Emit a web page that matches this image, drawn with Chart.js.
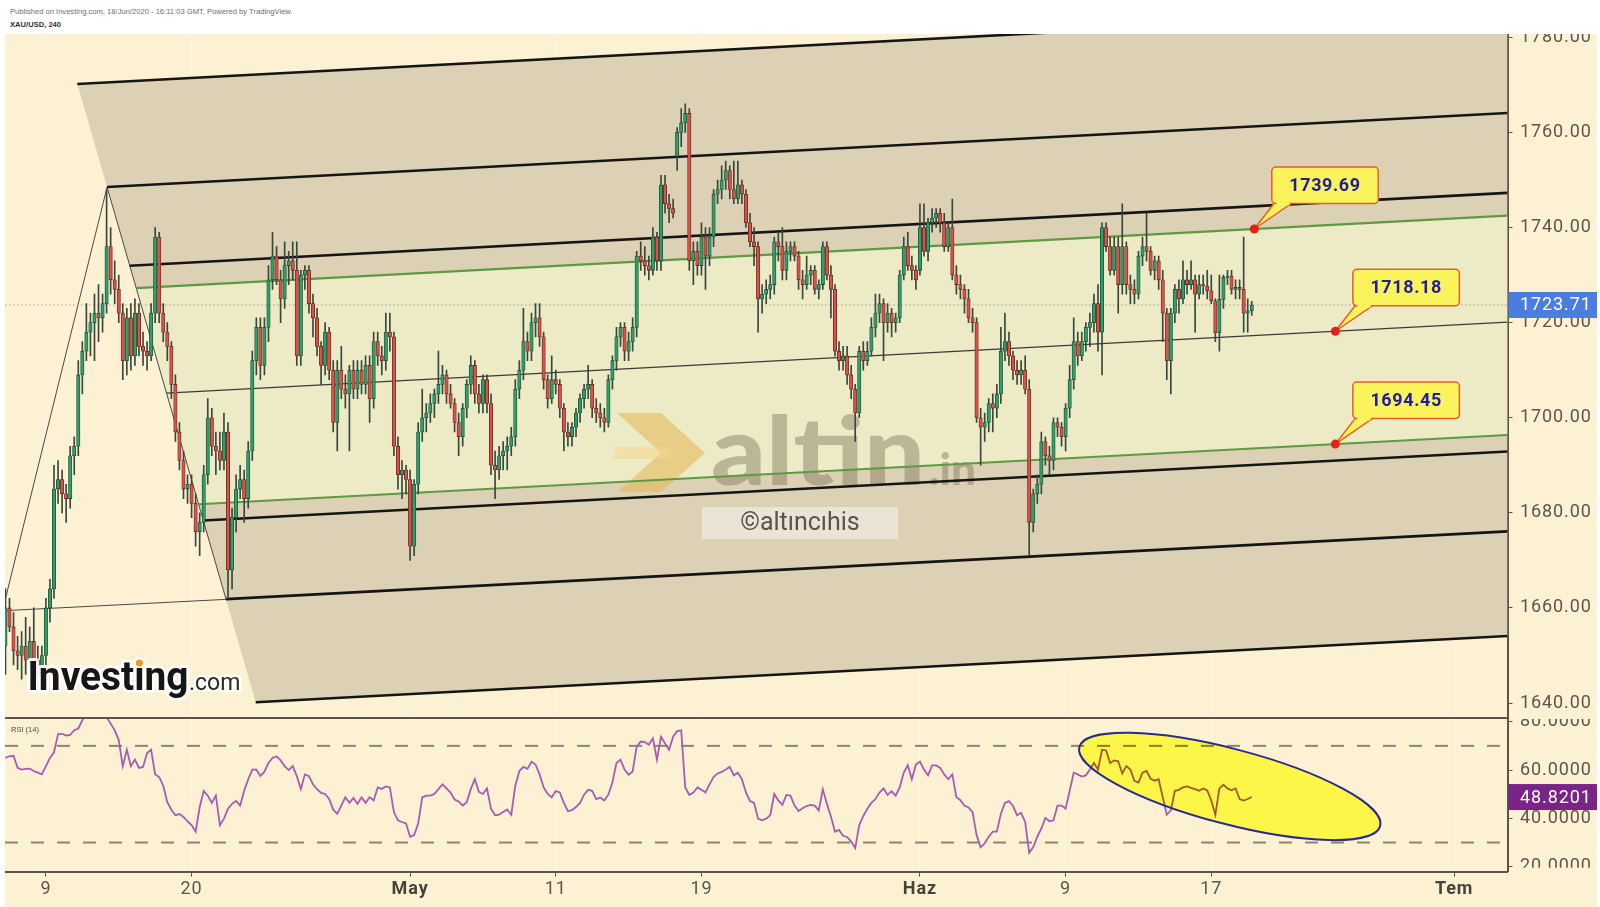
<!DOCTYPE html>
<html>
<head>
<meta charset="utf-8">
<title>XAU/USD, 240</title>
<script src="https://cdn.jsdelivr.net/npm/chart.js@4.4.1/dist/chart.umd.min.js"></script>
<style>
  html, body { margin: 0; padding: 0; }
  body { width: 1600px; height: 907px; background: #fff; position: relative; overflow: hidden; }
  canvas { display: block; }
  .hdr { position: absolute; left: 10px; font-family: "Liberation Sans", Arial, sans-serif; font-size: 7.6px; color: #6e6e6e; white-space: nowrap; }
  .pane { position: absolute; left: 5px; width: 1592px; background: #fdf1d3; }
  #pricePane { top: 34px; height: 685px; }
  #rsiPane { top: 719px; height: 188px; }
  #rsiLabel { position: absolute; left: 6px; top: 6px; font: 7.5px "Liberation Sans", Arial, sans-serif; color: #4a4a4a; }
</style>
</head>
<body>
<div class="hdr" style="top:6.5px">Published on Investing.com, 18/Jun/2020 - 16:11:03 GMT, Powered by TradingView.</div>
<div class="hdr" style="top:19.5px;font-weight:bold;color:#333">XAU/USD, 240</div>
<div class="pane" id="pricePane"><canvas id="priceChart" width="1592" height="685"></canvas></div>
<div class="pane" id="rsiPane"><canvas id="rsiChart" width="1592" height="188"></canvas><div id="rsiLabel">RSI (14)</div></div>
<script>
// x axis is in trading days: 0 = Thu 9 Apr 2020 (weekends / Good Friday removed)
const xMin = -1.685, xMax = 60.2;
const xTickDays = [0, 6, 15, 21, 27, 36, 42, 48, 58];
const xTickLabels = ['9', '20', 'May', '11', '19', 'Haz', '9', '17', 'Tem'];
const monthLabels = ['May', 'Haz', 'Tem'];
const firstBarDay = -5 / 3;   // first visible 4h bar, Tue 7 Apr
const barsPerDay = 6;

// XAU/USD 4h bars, one row per trading day
const open = [
  1652,1660,1656,1651,
  1650,1652,1649,1653,1649,1646,
  1650,1660,1664,1685,1687,1684,
  1683,1692,1694,1709,1714,1718,
  1720,1722,1721,1724,1736,1729,
  1727,1722,1712,1721,1713,1722,
  1715,1714,1713,1722,1738,1722,
  1718,1715,1707,1697,1691,1685,
  1686,1682,1676,1678,1688,1700,
  1694,1693,1691,1697,1668,1679,
  1685,1687,1683,1693,1712,1719,
  1711,1719,1729,1734,1729,1725,
  1732,1733,1731,1713,1730,1731,
  1724,1721,1715,1711,1718,1710,
  1699,1710,1706,1705,1710,1706,
  1710,1707,1711,1704,1716,1713,
  1712,1718,1717,1694,1688,1689,
  1687,1673,1686,1697,1700,1701,
  1703,1705,1707,1709,1705,1703,
  1699,1696,1702,1707,1711,1705,
  1703,1708,1703,1690,1689,1692,
  1693,1694,1696,1706,1710,1716,
  1714,1720,1721,1717,1708,1704,
  1708,1707,1702,1697,1696,1698,
  1701,1704,1706,1707,1702,1701,
  1700,1699,1708,1712,1717,1719,
  1714,1716,1719,1734,1733,1732,
  1731,1738,1733,1749,1745,1744,
  1755,1760,1762,1764,1733,1735,
  1732,1738,1734,1738,1747,1748,
  1750,1752,1748,1746,1749,1747,
  1741,1737,1736,1725,1726,1727,
  1728,1737,1736,1731,1735,1736,
  1734,1729,1728,1730,1731,1727,
  1728,1736,1730,1727,1714,1712,
  1713,1709,1706,1701,1714,1712,
  1714,1719,1722,1724,1720,1722,
  1720,1721,1730,1736,1732,1731,
  1731,1740,1735,1741,1742,1743,
  1741,1736,1740,1730,1728,1727,
  1725,1721,1720,1700,1698,1699,
  1703,1702,1705,1714,1716,1713,
  1710,1709,1710,1706,1678,1684,
  1686,1695,1692,1691,1699,1698,
  1696,1702,1708,1716,1713,1716,
  1719,1720,1724,1718,1740,1736,
  1731,1736,1728,1736,1728,1727,
  1726,1734,1736,1735,1731,1733,
  1729,1722,1712,1722,1727,1725,
  1729,1728,1729,1726,1728,1727.7,
  1726.7,1724.6,1717.9,1724.9,1729.5,1729.8,
  1727,1727.4,1727,1722,1722.5
];
const high = [
  1664,1662,1659,1654,
  1655,1658,1656,1660,1652,1652,
  1662,1666,1690,1691,1689,1686,
  1694,1696,1712,1716,1724,1722,
  1726,1728,1726,1748,1740,1733,
  1730,1724,1723,1724,1725,1724,
  1718,1716,1724,1740,1739,1724,
  1720,1716,1709,1699,1693,1688,
  1688,1684,1680,1690,1704,1702,
  1697,1697,1701,1699,1681,1688,
  1690,1689,1695,1714,1721,1721,
  1721,1732,1739,1736,1731,1737,
  1735,1737,1737,1731,1732,1732,
  1726,1723,1716,1720,1719,1712,
  1712,1715,1709,1711,1712,1712,
  1712,1713,1713,1718,1718,1715,
  1722,1722,1718,1696,1691,1690,
  1689,1687,1699,1706,1703,1705,
  1706,1714,1711,1710,1707,1704,
  1701,1703,1708,1713,1712,1707,
  1709,1709,1705,1693,1694,1695,
  1696,1698,1708,1712,1723,1718,
  1722,1724,1724,1718,1709,1713,
  1710,1708,1703,1699,1699,1702,
  1705,1707,1711,1708,1704,1703,
  1702,1709,1713,1719,1720,1720,
  1718,1721,1735,1737,1736,1734,
  1740,1739,1751,1751,1747,1746,
  1761,1765,1766,1765,1737,1737,
  1741,1740,1740,1748,1750,1753,
  1754,1753,1754,1754,1750,1748,
  1743,1740,1737,1728,1729,1730,
  1738,1739,1740,1737,1737,1737,
  1735,1731,1734,1732,1732,1729,
  1737,1737,1732,1728,1716,1715,
  1715,1711,1707,1715,1716,1716,
  1721,1726,1726,1725,1724,1723,
  1722,1731,1738,1739,1734,1732,
  1745,1745,1742,1744,1744,1744,
  1743,1741,1746,1732,1730,1728,
  1727,1723,1721,1702,1701,1704,
  1705,1707,1719,1722,1718,1714,
  1712,1712,1713,1708,1685,1688,
  1697,1696,1694,1700,1700,1699,
  1703,1711,1721,1718,1718,1720,
  1722,1726,1728,1741,1741,1738,
  1738,1738,1745,1737,1730,1729,
  1735,1738,1743,1736,1734,1734,
  1731,1723,1723,1728,1729,1733,
  1731,1733,1730,1730,1730,1731,
  1730,1725,1730,1730,1731,1731,
  1729,1729,1738,1725,1724.5
];
const low = [
  1646,1655,1648,1647,
  1645,1646,1647,1646,1643,1645,
  1648,1657,1662,1682,1680,1678,
  1681,1688,1692,1705,1712,1713,
  1712,1716,1718,1722,1726,1724,
  1720,1708,1709,1710,1711,1713,
  1711,1710,1712,1720,1720,1716,
  1712,1704,1695,1689,1683,1682,
  1679,1673,1671,1676,1686,1692,
  1688,1689,1689,1662,1664,1676,
  1683,1678,1681,1691,1709,1708,
  1709,1716,1727,1728,1720,1723,
  1728,1729,1711,1711,1727,1722,
  1717,1713,1707,1709,1708,1697,
  1693,1704,1702,1693,1704,1704,
  1705,1705,1699,1702,1711,1709,
  1710,1714,1692,1685,1683,1684,
  1670,1671,1684,1695,1697,1699,
  1700,1703,1705,1703,1702,1697,
  1692,1694,1700,1705,1703,1701,
  1701,1701,1688,1683,1687,1689,
  1689,1692,1694,1704,1708,1712,
  1712,1717,1715,1706,1702,1703,
  1705,1700,1693,1694,1694,1696,
  1699,1702,1704,1700,1699,1698,
  1697,1698,1706,1710,1715,1712,
  1712,1714,1717,1731,1730,1729,
  1730,1731,1731,1743,1741,1742,
  1752,1757,1760,1731,1728,1730,
  1730,1727,1732,1736,1745,1746,
  1748,1746,1745,1745,1745,1740,
  1736,1732,1718,1722,1724,1725,
  1726,1733,1729,1729,1733,1733,
  1727,1725,1727,1728,1726,1725,
  1727,1729,1721,1713,1710,1710,
  1707,1704,1695,1700,1710,1711,
  1713,1717,1720,1712,1718,1717,
  1718,1720,1729,1731,1729,1727,
  1730,1734,1733,1739,1740,1739,
  1735,1735,1729,1726,1725,1722,
  1720,1718,1699,1690,1695,1697,
  1697,1700,1703,1712,1711,1708,
  1707,1707,1705,1671,1676,1682,
  1684,1690,1688,1689,1696,1694,
  1693,1700,1706,1711,1712,1714,
  1715,1718,1714,1709,1735,1730,
  1730,1722,1726,1726,1724,1724,
  1725,1732,1733,1730,1729,1727,
  1716,1708,1705,1720,1722,1724,
  1726,1727,1718,1725,1726,1725,
  1724,1716,1714,1723,1728,1726,
  1725,1725,1718,1718,1721.5
];
const close = [
  1660,1656,1651,1650,
  1652,1649,1653,1649,1646,1650,
  1660,1664,1685,1687,1684,1683,
  1692,1694,1709,1714,1718,1720,
  1722,1721,1724,1736,1729,1727,
  1722,1712,1721,1713,1722,1715,
  1714,1713,1722,1738,1722,1718,
  1715,1707,1697,1691,1685,1686,
  1682,1676,1678,1688,1700,1694,
  1693,1691,1697,1668,1679,1685,
  1687,1683,1693,1712,1719,1711,
  1719,1729,1734,1729,1725,1732,
  1733,1731,1713,1730,1731,1724,
  1721,1715,1711,1718,1710,1699,
  1710,1706,1705,1710,1706,1710,
  1707,1711,1704,1716,1713,1712,
  1718,1717,1694,1688,1689,1687,
  1673,1686,1697,1700,1701,1703,
  1705,1707,1709,1705,1703,1699,
  1696,1702,1707,1711,1705,1703,
  1708,1703,1690,1689,1692,1693,
  1694,1696,1706,1710,1716,1714,
  1720,1721,1717,1708,1704,1708,
  1707,1702,1697,1696,1698,1701,
  1704,1706,1707,1702,1701,1700,
  1699,1708,1712,1717,1719,1714,
  1716,1719,1734,1733,1732,1731,
  1738,1733,1749,1745,1744,1743,
  1760,1762,1764,1733,1735,1732,
  1738,1734,1738,1747,1748,1750,
  1752,1748,1746,1749,1747,1741,
  1737,1736,1725,1726,1727,1728,
  1737,1736,1731,1735,1736,1734,
  1729,1728,1730,1731,1727,1728,
  1736,1730,1727,1714,1712,1713,
  1709,1706,1701,1714,1712,1714,
  1719,1722,1724,1720,1722,1720,
  1721,1730,1736,1732,1731,1729,
  1740,1735,1741,1742,1743,1741,
  1736,1740,1730,1728,1727,1725,
  1721,1720,1700,1698,1699,1703,
  1702,1705,1714,1716,1713,1710,
  1709,1710,1706,1678,1684,1686,
  1695,1692,1691,1699,1698,1696,
  1702,1708,1716,1713,1716,1719,
  1720,1724,1718,1740,1736,1731,
  1736,1728,1736,1728,1727,1726,
  1734,1736,1735,1731,1733,1729,
  1722,1712,1722,1727,1725,1729,
  1728,1729,1726,1728,1727.7,1726.7,
  1724.6,1717.9,1724.9,1729.5,1729.8,1727,
  1727.4,1727,1722,1722.5,1723.71
];

// RSI (14), one value per bar
const rsi = [
  65.0,65.7,65.9,60.9,60.2,60.5,60.6,59.6,58.9,58.2,
  61.6,65.0,67.3,74.9,75.0,74.3,74.5,76.5,77.2,80.6,
  84,86,85,88,85,82,79.2,76.5,72.4,61.6,
  68.4,61.6,64.3,60.9,61.3,67.0,68.4,58.2,57.1,53.5,
  46.7,43.6,41.3,41.8,40.6,38.8,37.2,34.5,44.6,51.4,
  49.4,46.4,49.4,37.2,39.9,44.0,46.0,47.2,45.3,51.4,
  56.2,60.2,60.2,57.5,59.3,62.9,65.0,65.7,64.0,61.6,
  60.0,61.6,57.5,52.1,58.2,57.5,54.1,52.1,50.5,50.1,
  48.0,43.6,41.9,45.3,48.7,46.4,48.4,46.0,48.7,46.4,
  48.7,47.4,52.8,52.2,53.2,52.8,42.6,39.2,38.5,37.9,
  32.4,33.1,37.9,48.7,49.4,49.4,50.1,52.1,54.1,52.4,
  50.7,47.8,47.0,45.3,46.7,52.1,56.2,51.0,50.1,52.4,
  44.0,41.3,41.5,42.6,43.7,41.5,53.5,59.6,61.3,60.5,
  63.4,62.3,58.2,52.8,50.1,48.7,51.3,50.7,46.4,43.0,
  43.4,44.7,46.4,49.8,51.8,51.4,48.0,48.6,47.4,49.8,
  54.9,62.9,64.3,60.2,58.1,59.4,69.7,71.8,71.6,70.5,
  73.1,64.3,73.8,71.1,68.4,73.8,76.1,76.4,52.8,49.7,
  50.7,52.8,51.8,50.7,54.1,57.1,58.6,59.2,60.2,61.3,
  57.8,58.9,56.2,50.7,47.2,46.4,39.9,39.2,39.9,41.3,
  50.1,47.4,45.6,49.7,49.4,45.3,43.0,44.2,45.1,45.6,
  45.3,43.3,52.1,46.0,40.8,34.5,35.2,32.8,32.3,30.4,
  27.7,37.2,41.0,44.0,46.4,48.0,50.7,52.4,49.7,51.2,
  49.4,52.8,58.9,62.0,56.2,62.3,63.5,60.2,57.8,61.9,
  61.9,60.9,58.2,56.2,58.2,48.7,47.5,45.3,44.5,42.6,
  33.1,28.0,29.7,32.4,34.5,34.5,41.9,46.4,47.1,45.1,
  41.3,42.3,38.5,25.7,28.1,32.4,35.8,40.2,38.8,39.2,
  45.3,45.3,44.0,51.4,58.9,58.2,57.3,57.8,60.2,62.9,
  60.2,68.4,68.1,62.9,64.0,63.6,58.6,61.6,60.2,55.5,
  54.8,58.9,59.6,56.4,55.6,56.2,48.7,41.5,43.3,51.4,
  51.8,52.8,53.2,52.6,52.1,51.4,52.4,51.6,47.4,41.5,
  52.4,53.9,52.4,51.6,52.4,48.0,47.4,48.0,48.82
];
const rsiBands = [70, 30];
const lastPrice = 1723.71;
const lastRsi = 48.8201;

const priceMin = 1636.85, priceMax = 1780.7;
const rsiMin = 17.93, rsiMax = 81.12;

// pitchfork drawn by the author: median line, slope and parallel offsets
const forkAnchorDay = 53.11, forkAnchorPrice = 1718.18, forkSlope = 0.27;
const forkOffsets = [66, 44, 27.2, 22.4, 0, -23.73, -27.2, -44, -66];
const forkKinds = ['black', 'black', 'black', 'green', 'median', 'green', 'black', 'black', 'black'];
const pivotDays = [-1.79, 2.52, 7.42];
const pivotPrices = [1659.4, 1748.5, 1661.8];

// price callouts on the fork
const calloutDays = [49.77, 53.11, 53.11];
const calloutValues = [1739.69, 1718.18, 1694.45];

// highlighted RSI area
const ellipseDay = 48.76, ellipseRsi = 53.2;

const cream = '#fdf1d3';
const axisColor = '#5b554c';
const labelColor = '#5d564d';
const upFill = '#2e9f69', upEdge = '#1f4d36';
const downFill = '#dc5046', downEdge = '#5e2a22';
const wickColor = '#39473d';
const lineStyle = {
  black: { color: '#151515', width: 2.6 },
  green: { color: '#5e9a42', width: 2.2 },
  median: { color: '#3a3a3a', width: 1.2 }
};

Chart.defaults.font.family = 'Roboto';

const barDay = i => firstBarDay + i / barsPerDay;
const forkAt = (off, d) => forkAnchorPrice + forkSlope * (d - forkAnchorDay) + off;
const edgeSlope = (pivotPrices[2] - pivotPrices[1]) / (pivotDays[2] - pivotDays[1]);
// where a parallel meets the pivot2-pivot3 edge
const forkStart = off => (pivotPrices[1] - edgeSlope * pivotDays[1] - forkAnchorPrice + forkSlope * forkAnchorDay - off) / (forkSlope - edgeSlope);
const forkSeg = off => {
  const d0 = forkStart(off);
  return [{ x: d0, y: forkAt(off, d0) }, { x: xMax, y: forkAt(off, xMax) }];
};

const isMonth = v => monthLabels.includes(xTickLabels[xTickDays.indexOf(v)]);

// no extra room for half labels at the ends: TradingView clips them
const noPad = s => { s.paddingTop = 0; s.paddingBottom = 0; s.paddingLeft = 0; s.paddingRight = 0; };

function dayScale(withLabels) {
  return {
    type: 'linear', min: xMin, max: xMax, offset: false,
    afterBuildTicks: s => { s.ticks = xTickDays.map(v => ({ value: v })); },
    grid: { color: 'rgba(255,255,255,0.45)', offset: false, drawTicks: withLabels, tickLength: 5, tickColor: axisColor },
    border: { display: true, color: axisColor, width: 2 },
    ticks: {
      display: withLabels, autoSkip: false, maxRotation: 0, padding: 2,
      callback: v => { const k = xTickDays.indexOf(v); return k >= 0 ? xTickLabels[k] : ''; },
      font: ctx => ({ family: 'Roboto', size: 18, weight: isMonth(ctx.tick && ctx.tick.value) ? 'bold' : 'normal' }),
      color: ctx => isMonth(ctx.tick && ctx.tick.value) ? '#49423a' : labelColor
    },
    afterFit: s => { s.height = withLabels ? 35.3 : 1; noPad(s); }
  };
}

function valueScale(min, max, digits) {
  return {
    type: 'linear', position: 'right', min: min, max: max,
    ticks: {
      stepSize: 20, includeBounds: false, padding: 7.5,
      callback: v => v.toFixed(digits),
      font: { family: 'Roboto', size: 18 }, color: labelColor
    },
    grid: { drawOnChartArea: false, tickLength: 5, tickColor: axisColor },
    border: { color: axisColor, width: 2 },
    afterFit: s => { s.width = 89.5; noPad(s); }
  };
}

const spacing = { id: 'spacing', beforeDraw: c => { c.ctx.letterSpacing = '0.9px'; } };

// ---------- price pane ----------
const outerZone = [...forkSeg(66), ...forkSeg(-66).reverse()];
const innerZone = [...forkSeg(22.4), ...forkSeg(-23.73).reverse()];

const priceDatasets = [
  { type: 'line', data: outerZone, fill: 'shape', backgroundColor: '#dcd1b4', borderColor: 'transparent', borderWidth: 0, pointRadius: 0, order: 30 },
  { type: 'line', data: innerZone, fill: 'shape', backgroundColor: '#ecebc6', borderColor: 'transparent', borderWidth: 0, pointRadius: 0, order: 29 }
];
const WATERMARK_AFTER = 1;

forkOffsets.forEach((off, k) => {
  const st = lineStyle[forkKinds[k]];
  priceDatasets.push({ type: 'line', data: forkSeg(off), borderColor: st.color, borderWidth: st.width, pointRadius: 0, fill: false, order: 20 });
});
[[0, 1], [1, 2], [0, 2]].forEach(([a, b]) => {
  priceDatasets.push({
    type: 'line',
    data: [{ x: pivotDays[a], y: pivotPrices[a] }, { x: pivotDays[b], y: pivotPrices[b] }],
    borderColor: '#484848', borderWidth: 1, pointRadius: 0, fill: false, order: 20
  });
});
priceDatasets.push({
  type: 'line', data: [{ x: xMin, y: lastPrice }, { x: xMax, y: lastPrice }],
  borderColor: '#a39d92', borderWidth: 1, borderDash: [1.5, 2.5], pointRadius: 0, fill: false, order: 15
});
priceDatasets.push({
  type: 'bar', data: close.map((c, i) => ({ x: barDay(i), y: [low[i], high[i]] })),
  backgroundColor: wickColor, barThickness: 1, grouped: false, order: 2
});
priceDatasets.push({
  type: 'bar', data: close.map((c, i) => ({ x: barDay(i), y: [open[i], c] })),
  backgroundColor: ctx => close[ctx.dataIndex] >= open[ctx.dataIndex] ? upFill : downFill,
  borderColor: ctx => close[ctx.dataIndex] >= open[ctx.dataIndex] ? upEdge : downEdge,
  borderWidth: 0.8, borderSkipped: false, barThickness: 3.4, minBarLength: 1, grouped: false, order: 1
});

function drawWatermark(chart) {
  const ctx = chart.ctx;
  ctx.save();
  ctx.letterSpacing = '0px';
  // gold chevron of the altin.in mark
  const ix = 606, iy = 379;
  ctx.fillStyle = 'rgba(228,180,82,0.55)';
  ctx.beginPath();
  ctx.moveTo(ix + 6, iy); ctx.lineTo(ix + 50, iy); ctx.lineTo(ix + 94, iy + 40);
  ctx.lineTo(ix + 50, iy + 79); ctx.lineTo(ix + 6, iy + 79); ctx.lineTo(ix + 50, iy + 40);
  ctx.closePath(); ctx.fill();
  ctx.fillStyle = 'rgba(245,215,140,0.55)';
  ctx.beginPath();
  ctx.moveTo(ix, iy + 34); ctx.lineTo(ix + 56, iy + 34); ctx.lineTo(ix + 62, iy + 40);
  ctx.lineTo(ix + 56, iy + 46); ctx.lineTo(ix, iy + 46); ctx.lineTo(ix + 6, iy + 40);
  ctx.closePath(); ctx.fill();
  // altin.in word mark
  ctx.fillStyle = 'rgba(120,110,85,0.42)';
  ctx.textBaseline = 'alphabetic';
  ctx.textAlign = 'left';
  ctx.font = '900 96px Lato';
  const w = ctx.measureText('altin').width;
  ctx.save();
  ctx.translate(706, 451);
  ctx.scale(214 / w, 1);
  ctx.fillText('altin', 0, 0);
  ctx.restore();
  ctx.font = '900 44px Lato';
  ctx.fillText('.in', 924, 451);
  // copyright strip
  ctx.fillStyle = 'rgba(238,236,228,0.7)';
  ctx.fillRect(697, 473, 196, 32);
  ctx.fillStyle = '#58534b';
  ctx.font = '25px Roboto';
  ctx.textAlign = 'center';
  ctx.textBaseline = 'middle';
  ctx.fillText('©altıncıhis', 795, 490);
  ctx.restore();
}

function drawLogo(chart) {
  const ctx = chart.ctx;
  ctx.save();
  ctx.letterSpacing = '0px';
  ctx.textBaseline = 'alphabetic';
  ctx.textAlign = 'left';
  ctx.font = 'bold 41px Roboto';
  const w = ctx.measureText('Investing').width;
  const sx = 161 / w;
  ctx.save();
  ctx.translate(22.5, 656);
  ctx.scale(sx, 1);
  ctx.lineJoin = 'round';
  ctx.strokeStyle = 'rgba(255,255,255,0.9)';
  ctx.lineWidth = 6;
  ctx.strokeText('Investing', 0, 0);
  ctx.fillStyle = '#161616';
  ctx.fillText('Investing', 0, 0);
  const iw = ctx.measureText('Invest').width;
  ctx.fillStyle = '#f29a1f';
  ctx.beginPath();
  ctx.arc(iw + 5.5, -27, 3.6, 0, Math.PI * 2);
  ctx.fill();
  ctx.restore();
  ctx.font = '23px Roboto';
  ctx.strokeStyle = 'rgba(255,255,255,0.9)';
  ctx.lineWidth = 5;
  ctx.strokeText('.com', 184, 656);
  ctx.fillStyle = '#2a2a2a';
  ctx.fillText('.com', 184, 656);
  ctx.restore();
}

function drawCallouts(chart) {
  const { ctx, scales } = chart;
  ctx.save();
  ctx.letterSpacing = '0.6px';
  calloutDays.forEach((d, k) => {
    const px = scales.x.getPixelForValue(d);
    const py = scales.y.getPixelForValue(calloutValues[k]);
    const bx = px + 17.5, by = py - 62, bw = 106.5, bh = 36.5;
    const tail = () => {
      ctx.beginPath();
      ctx.moveTo(bx + 3, by + bh - 1);
      ctx.lineTo(px, py);
      ctx.lineTo(bx + 21, by + bh - 1);
      ctx.closePath();
    };
    ctx.fillStyle = '#fbf35c';
    ctx.strokeStyle = '#e2602c';
    ctx.lineWidth = 1.5;
    tail(); ctx.fill(); ctx.stroke();
    ctx.beginPath();
    ctx.roundRect(bx, by, bw, bh, 4);
    ctx.fill(); ctx.stroke();
    ctx.beginPath();
    ctx.moveTo(bx + 4.5, by + bh - 2.5);
    ctx.lineTo(bx + 19.5, by + bh - 2.5);
    ctx.lineTo(bx + 17, by + bh + 2);
    ctx.lineTo(bx + 5, by + bh + 2);
    ctx.closePath();
    ctx.fill();
    ctx.fillStyle = '#1e1e9e';
    ctx.font = 'bold 18px Roboto';
    ctx.textAlign = 'center';
    ctx.textBaseline = 'middle';
    ctx.fillText(calloutValues[k].toFixed(2), bx + bw / 2, by + bh / 2 + 1);
    ctx.beginPath();
    ctx.arc(px, py, 4.5, 0, Math.PI * 2);
    ctx.fillStyle = '#e3211c';
    ctx.fill();
  });
  ctx.restore();
}

function drawTag(chart, scale, value, text, color) {
  const { ctx, chartArea } = chart;
  const yp = scale.getPixelForValue(value);
  ctx.save();
  ctx.fillStyle = color;
  ctx.fillRect(chartArea.right + 1, yp - 13, chart.width - chartArea.right - 1, 26);
  ctx.fillStyle = '#ffffff';
  ctx.letterSpacing = '0.9px';
  ctx.font = '18px Roboto';
  ctx.textAlign = 'left';
  ctx.textBaseline = 'middle';
  ctx.fillText(text, chartArea.right + 12.5, yp + 1);
  ctx.restore();
}

const pricePlugin = {
  id: 'priceDecor',
  afterDatasetDraw: (chart, args) => { if (args.index === WATERMARK_AFTER) drawWatermark(chart); },
  afterDatasetsDraw: chart => { drawLogo(chart); drawCallouts(chart); },
  afterDraw: chart => drawTag(chart, chart.scales.y, lastPrice, lastPrice.toFixed(2), '#4b7de1')
};

new Chart(document.getElementById('priceChart'), {
  type: 'line',
  data: { datasets: priceDatasets },
  options: {
    responsive: false, animation: false, events: [],
    layout: { padding: 0, autoPadding: false },
    plugins: { legend: { display: false }, tooltip: { enabled: false } },
    scales: { x: dayScale(false), y: valueScale(priceMin, priceMax, 2) }
  },
  plugins: [spacing, pricePlugin]
});

// ---------- RSI pane ----------
const rsiDatasets = [
  { data: rsi.map((v, i) => ({ x: barDay(i), y: v })), borderColor: '#a65cb6', borderWidth: 1.8, pointRadius: 0, fill: false, tension: 0, order: 1 },
  ...rsiBands.map(b => ({
    data: [{ x: xMin, y: b }, { x: xMax, y: b }],
    borderColor: '#8d8576', borderWidth: 2, borderDash: [13, 13], pointRadius: 0, fill: false, order: 2
  }))
];

const rsiPlugin = {
  id: 'rsiDecor',
  afterDatasetsDraw: chart => {
    const { ctx, scales } = chart;
    const cx = scales.x.getPixelForValue(ellipseDay);
    const cy = scales.y.getPixelForValue(ellipseRsi);
    ctx.save();
    ctx.beginPath();
    ctx.ellipse(cx, cy, 155.5, 37.6, 14.7 * Math.PI / 180, 0, Math.PI * 2);
    ctx.globalCompositeOperation = 'multiply';
    ctx.fillStyle = 'rgb(252,246,72)';
    ctx.fill();
    ctx.globalCompositeOperation = 'source-over';
    ctx.strokeStyle = '#2b2a8f';
    ctx.lineWidth = 2;
    ctx.stroke();
    ctx.restore();
  },
  afterDraw: chart => {
    const { ctx, chartArea } = chart;
    // the pane clips the lowest axis label at its bottom edge
    ctx.save();
    ctx.fillStyle = cream;
    ctx.fillRect(chartArea.right + 1.5, chartArea.bottom - 4, chart.width, chart.height);
    ctx.restore();
    drawTag(chart, chart.scales.y, lastRsi, lastRsi.toFixed(4), '#7a2388');
  }
};

new Chart(document.getElementById('rsiChart'), {
  type: 'line',
  data: { datasets: rsiDatasets },
  options: {
    responsive: false, animation: false, events: [],
    layout: { padding: 0, autoPadding: false },
    plugins: { legend: { display: false }, tooltip: { enabled: false } },
    scales: { x: dayScale(true), y: valueScale(rsiMin, rsiMax, 4) }
  },
  plugins: [spacing, rsiPlugin]
});
</script>
</body>
</html>
